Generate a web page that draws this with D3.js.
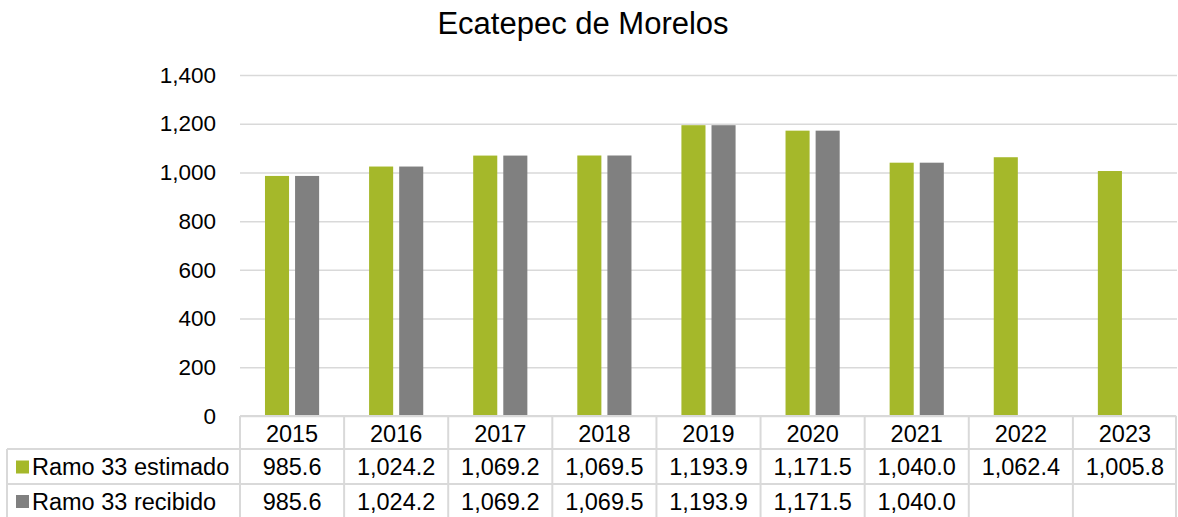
<!DOCTYPE html>
<html>
<head>
<meta charset="utf-8">
<style>
  body { margin: 0; background: #fff; }
  text { font-family: "Liberation Sans", Arial, sans-serif; fill: #000; }
</style>
</head>
<body>
<svg id="svg" width="1178" height="517"></svg>
<script src="https://cdn.jsdelivr.net/npm/d3@7"></script>
<script>
const years = ["2015", "2016", "2017", "2018", "2019", "2020", "2021", "2022", "2023"];
const estimado = [985.6, 1024.2, 1069.2, 1069.5, 1193.9, 1171.5, 1040.0, 1062.4, 1005.8];
const recibido = [985.6, 1024.2, 1069.2, 1069.5, 1193.9, 1171.5, 1040.0, null, null];
const seriesNames = ["Ramo 33 estimado", "Ramo 33 recibido"];
const seriesColors = ["#a5b82a", "#808080"];
const yTicks = [0, 200, 400, 600, 800, 1000, 1200, 1400];

const svg = d3.select("#svg");
const plotL = 240, plotR = 1177, plotT = 75, plotB = 416;
const rowH = [33, 35, 34];
const gridColor = "#d9d9d9";
const fmt = d3.format(",.1f");
const tblFont = "23.5px";

svg.append("text")
  .attr("x", 583).attr("y", 34)
  .attr("text-anchor", "middle")
  .style("font-size", "31px")
  .text("Ecatepec de Morelos");

const x = d3.scaleBand().domain(years).range([plotL, plotR]);
const xs = d3.scaleBand().domain([0, 1]).range([0, x.bandwidth()])
  .paddingInner(0.2).paddingOuter(0.83);
const y = d3.scaleLinear().domain([0, 1400]).range([plotB, plotT]);

// gridlines + tick labels
const yAxis = d3.axisLeft(y).tickValues(yTicks).tickFormat(d3.format(","))
  .tickSize(0).tickPadding(24);
const gy = svg.append("g").attr("transform", `translate(${plotL},0)`).call(yAxis);
gy.select(".domain").remove();
gy.selectAll("text").style("font-size", "22.5px").attr("fill", "#000")
  .style("font-family", '"Liberation Sans", Arial, sans-serif');
gy.selectAll(".tick").append("line")
  .attr("x1", 0).attr("x2", plotR - plotL)
  .attr("stroke", gridColor).attr("stroke-width", 1.5);

// bars
const data = [estimado, recibido];
data.forEach((vals, s) => {
  svg.append("g").selectAll("rect")
    .data(years.map((yr, i) => ({ yr, v: vals[i] })).filter(d => d.v != null))
    .join("rect")
    .attr("x", d => x(d.yr) + xs(s))
    .attr("width", xs.bandwidth())
    .attr("y", d => y(d.v))
    .attr("height", d => y(0) - y(d.v))
    .attr("fill", seriesColors[s]);
});

// data table
const t = svg.append("g");
const rowY = [plotB, plotB + rowH[0], plotB + rowH[0] + rowH[1], plotB + rowH[0] + rowH[1] + rowH[2]];
const tableLeft = 7;
const line = (x1, y1, x2, y2) => t.append("line")
  .attr("x1", x1).attr("y1", y1).attr("x2", x2).attr("y2", y2)
  .attr("stroke", gridColor).attr("stroke-width", 2);

line(plotL, rowY[0], plotR - 1, rowY[0]);
line(tableLeft, rowY[1], plotR - 1, rowY[1]);
line(tableLeft, rowY[2], plotR - 1, rowY[2]);
line(tableLeft, rowY[1], tableLeft, 517);
years.forEach(yr => line(x(yr), rowY[0], x(yr), 517));
line(plotR - 1, rowY[0], plotR - 1, 517);

t.selectAll("text.hdr").data(years).join("text")
  .attr("class", "hdr")
  .attr("x", d => x(d) + x.bandwidth() / 2)
  .attr("y", (rowY[0] + rowY[1]) / 2 + 9)
  .attr("text-anchor", "middle")
  .style("font-size", tblFont)
  .text(d => d);

data.forEach((vals, s) => {
  const cy = (rowY[s + 1] + rowY[s + 2]) / 2;
  t.append("rect")
    .attr("x", 16).attr("y", cy - 6).attr("width", 13).attr("height", 13)
    .attr("fill", seriesColors[s]);
  t.append("text")
    .attr("x", 32).attr("y", cy + 8.5)
    .style("font-size", tblFont)
    .text(seriesNames[s]);
  t.selectAll(null).data(years.map((yr, i) => ({ yr, v: vals[i] })).filter(d => d.v != null))
    .join("text")
    .attr("x", d => x(d.yr) + x.bandwidth() / 2)
    .attr("y", cy + 8.5)
    .attr("text-anchor", "middle")
    .style("font-size", tblFont)
    .text(d => fmt(d.v));
});
</script>
</body>
</html>
